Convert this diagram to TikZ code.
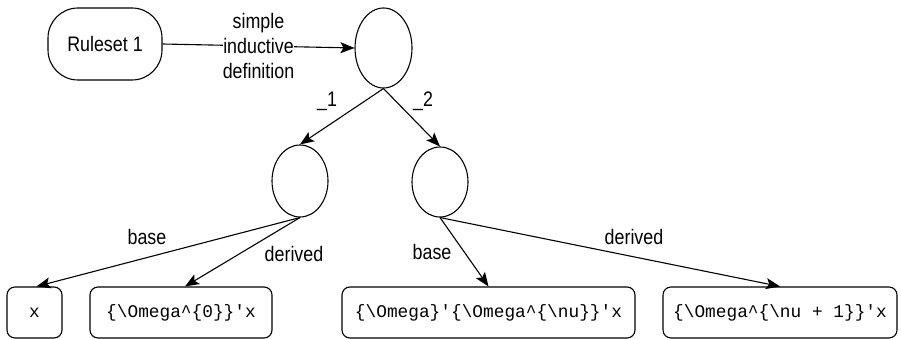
\documentclass[tikz,border=0pt]{standalone}
\usepackage{fontspec}
\setmainfont{Liberation Sans}[FakeStretch=0.85]
\setmonofont{Liberation Mono}
\usetikzlibrary{arrows.meta,shapes.geometric}
% literal characters for the code labels
\newcommand\bs{\char"5C\relax}
\newcommand\crt{\char"5E\relax}
\newcommand\qt{\char"27\relax}
\tikzset{
  base/.style={line width=1.1pt, draw=black},
  pill/.style={base, rounded corners=30pt, minimum width=114pt, minimum height=72pt,
    font=\fontsize{21}{25}\selectfont, inner sep=0pt},
  blob/.style={base, ellipse, inner sep=0pt},
  codebox/.style={base, rounded corners=8pt, minimum height=51pt, inner sep=0pt,
    font=\ttfamily\fontsize{17.8}{21}\selectfont},
  lbl/.style={font=\fontsize{21}{25}\selectfont, inner sep=1pt},
  edge/.style={line width=1.1pt, -{Stealth[length=14pt,width=11pt,inset=3pt]}},
}
\begin{document}
\begin{tikzpicture}[x=1pt,y=-1pt]
\useasboundingbox (0,0) rectangle (901,339);

\node[pill] (rs) at (105,44) {Ruleset 1};
\node[blob, minimum width=57pt, minimum height=80pt] (top) at (383.5,48) {};
\node[blob, minimum width=56pt, minimum height=72pt] (lc) at (300,181) {};
\node[blob, minimum width=56pt, minimum height=70pt] (rc) at (440,182) {};

\node[codebox, minimum width=55pt] (bx) at (34.5,312.5) {x};
\node[codebox, minimum width=182pt] (b0) at (181,312.5) {\{\bs Omega\crt\{0\}\}\qt x};
\node[codebox, minimum width=293pt] (b1) at (488.5,312.5) {\{\bs Omega\}\qt\{\bs Omega\crt\{\bs nu\}\}\qt x};
\node[codebox, minimum width=234pt] (b2) at (780,312.5) {\{\bs Omega\crt\{\bs nu + 1\}\}\qt x};

\draw[edge] (rs.east) -- (top.west)
  node[midway, fill=white, lbl, align=center, inner sep=0pt] {simple\\inductive\\definition};

\draw[edge] (top.south) -- (lc.north);
\draw[edge] (top.south) -- (rc.north);
\node[lbl] at (327,101) {\_1};
\node[lbl] at (423,101) {\_2};

\draw[edge] (lc.south) -- ([xshift=2pt]bx.north);
\draw[edge] (lc.south) -- ([xshift=4pt]b0.north);
\node[lbl] at (147,237) {base};
\node[lbl] at (294,254) {derived};

\draw[edge] (rc.south) -- (b1.north);
\draw[edge] (rc.south) -- (b2.north);
\node[lbl] at (432,252) {base};
\node[lbl] at (634,237) {derived};
\end{tikzpicture}
\end{document}
